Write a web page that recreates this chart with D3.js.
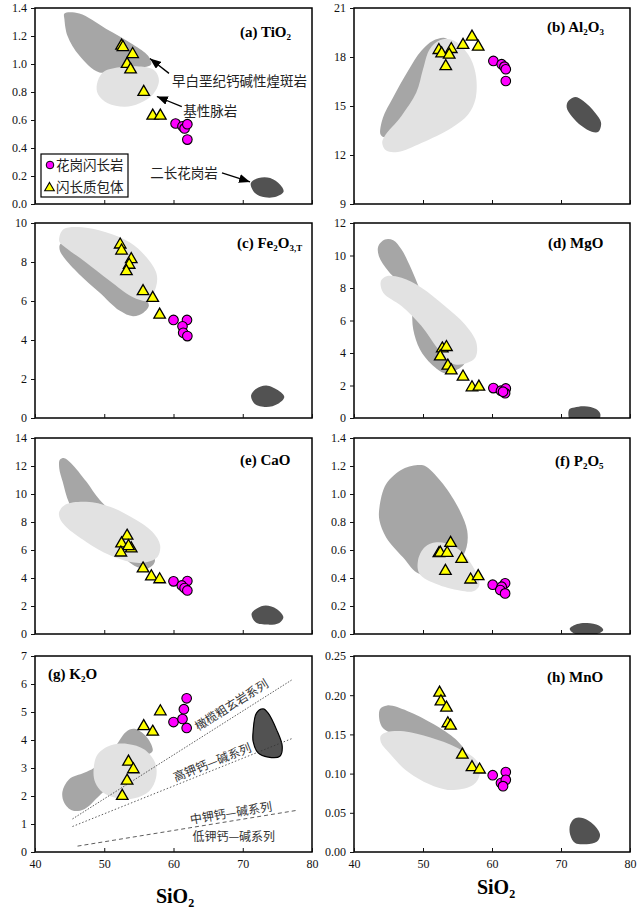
<!DOCTYPE html>
<html>
<head>
<meta charset="utf-8">
<script src="https://cdn.jsdelivr.net/npm/d3@7"></script>
<style>
  body { margin: 0; background: #fff; }
  svg text { font-family: "Liberation Serif", "Times New Roman", serif; }
  svg .cjk { font-family: "Noto Sans CJK SC", sans-serif; }
</style>
</head>
<body>
<div id="chart"></div>
<script>
// x axis is SiO2 (wt%) for every panel
const xTicks = [40, 50, 60, 70, 80]

// (a) TiO2
const tio2Ticks = [0, 0.2, 0.4, 0.6, 0.8, 1.0, 1.2, 1.4]
const tio2Enclave = [[52.5, 1.13], [52.7, 1.12], [54.1, 1.07], [53.3, 1.0], [53.8, 0.96], [55.7, 0.80], [57.0, 0.63], [58.1, 0.63]]
const tio2Granodiorite = [[60.3, 0.575], [61.3, 0.555], [61.6, 0.54], [62.0, 0.57], [62.0, 0.46]]
const tio2Lamprophyre = [[44.25, 1.36], [46.4, 1.36], [50.3, 1.25], [54.15, 1.14], [56.3, 1.06], [56.8, 1.0], [56.1, 0.98], [53.2, 0.98], [49.3, 0.94], [46.4, 1.06], [44.7, 1.2], [44.25, 1.32]]
const tio2Dyke = [[48.94, 0.856], [49.8, 0.94], [52.2, 0.976], [55.6, 0.98], [57.3, 0.952], [57.9, 0.88], [57.05, 0.784], [55.1, 0.72], [52.95, 0.695], [50.5, 0.72], [49.1, 0.784]]
const tio2Granite = [[71.16, 0.149], [72.3, 0.185], [73.96, 0.185], [75.4, 0.137], [75.9, 0.089], [74.9, 0.053], [73.2, 0.048], [71.8, 0.077]]

// (b) Al2O3
const al2o3Ticks = [9, 12, 15, 18, 21]
const al2o3Enclave = [[52.3, 18.42], [52.7, 18.21], [54.1, 18.48], [53.8, 18.13], [53.3, 17.43], [55.8, 18.73], [57.1, 19.24], [58.0, 18.62]]
const al2o3Granodiorite = [[60.2, 17.76], [61.4, 17.56], [61.8, 17.41], [62.0, 17.25], [62.0, 16.53]]
const al2o3Lamprophyre = [[43.85, 13.25], [44.19, 14.28], [45.64, 15.51], [47.82, 17.15], [49.76, 18.38], [51.45, 18.99], [53.15, 19.16], [53.87, 18.89], [52.18, 17.35], [49.76, 15.3], [46.37, 13.66], [44.43, 13.09]]
const al2o3Dyke = [[44.09, 12.74], [44.43, 13.15], [46.85, 14.38], [49.03, 15.82], [50.0, 17.25], [50.97, 18.48], [52.42, 19.03], [54.36, 19.03], [56.54, 18.17], [57.6, 17.04], [57.65, 15.51], [56.54, 14.48], [54.12, 13.66], [49.76, 12.74], [46.37, 12.19], [44.67, 12.27]]
const al2o3Granite = [[71.06, 15.3], [72.03, 15.55], [73.24, 15.3], [74.94, 14.59], [75.81, 13.97], [75.42, 13.42], [74.46, 13.42], [73.0, 13.77], [71.55, 14.38], [70.82, 14.93]]

// (c) Fe2O3T
const fe2o3Ticks = [0, 2, 4, 6, 8, 10]
const fe2o3Enclave = [[52.3, 8.89], [52.5, 8.58], [53.9, 8.14], [53.6, 7.85], [53.2, 7.52], [55.6, 6.5], [57.0, 6.15], [58.0, 5.29]]
const fe2o3Granodiorite = [[60.0, 5.03], [61.95, 5.03], [61.3, 4.7], [61.4, 4.37], [62.0, 4.2]]
const fe2o3Lamprophyre = [[43.66, 8.92], [45.37, 9.1], [49.27, 8.16], [54.15, 7.05], [55.8, 6.19], [56.44, 5.77], [55.61, 5.39], [54.15, 5.22], [52.2, 5.51], [49.27, 6.45], [46.34, 7.39], [44.15, 8.24], [43.56, 8.63]]
const fe2o3Dyke = [[43.51, 9.27], [44.15, 9.69], [46.83, 9.78], [50.24, 9.52], [53.66, 9.01], [56.1, 8.24], [57.56, 7.39], [57.46, 6.71], [56.34, 6.02], [54.15, 6.19], [50.73, 7.05], [47.32, 7.99], [44.39, 8.75], [43.56, 9.01]]
const fe2o3Granite = [[71.2, 1.16], [71.95, 1.5], [73.4, 1.67], [75.1, 1.42], [76.0, 1.08], [75.1, 0.73], [73.4, 0.56], [71.7, 0.73]]

// (d) MgO
const mgoTicks = [0, 2, 4, 6, 8, 10, 12]
const mgoEnclave = [[52.8, 4.27], [53.4, 4.36], [52.5, 3.78], [53.6, 3.21], [54.1, 2.92], [55.8, 2.54], [57.1, 1.88], [58.1, 1.92]]
const mgoGranodiorite = [[60.2, 1.84], [61.3, 1.68], [62.0, 1.82], [61.9, 1.53], [61.6, 1.62]]
const mgoLamprophyre = [[43.52, 10.57], [44.48, 10.98], [45.69, 10.94], [46.89, 10.37], [48.34, 9.14], [49.54, 7.91], [51.23, 6.07], [54.6, 4.23], [56.05, 3.42], [54.6, 2.9], [53.16, 2.76], [51.23, 3.31], [49.54, 4.23], [48.58, 5.46], [48.34, 6.69], [47.61, 7.81], [44.96, 9.04], [43.61, 9.96]]
const mgoDyke = [[43.9, 8.43], [44.72, 8.73], [46.89, 8.63], [49.78, 8.02], [53.16, 6.89], [56.05, 5.77], [57.73, 4.64], [57.59, 3.72], [55.8, 3.31], [54.12, 3.37], [52.19, 4.23], [49.78, 5.66], [46.89, 6.89], [44.24, 7.71]]
const mgoGranite = [[71.23, 0.55], [71.95, 0.65], [73.4, 0.72], [75.08, 0.55], [75.7, 0.25], [75.3, -0.27], [73.4, -0.37], [71.47, -0.27], [71.08, 0.14]]

// (e) CaO
const caoTicks = [0, 2, 4, 6, 8, 10, 12, 14]
const caoEnclave = [[53.3, 7.01], [52.5, 6.46], [53.9, 6.1], [53.5, 6.27], [52.4, 5.81], [55.6, 4.67], [56.8, 4.11], [58.0, 3.9]]
const caoGranodiorite = [[60.0, 3.76], [62.0, 3.78], [61.2, 3.47], [61.6, 3.28], [62.0, 3.11]]
const caoLamprophyre = [[43.59, 12.44], [44.23, 12.56], [45.21, 12.2], [47.41, 10.89], [49.36, 9.57], [53.28, 7.78], [56.7, 6.1], [57.29, 5.14], [56.21, 4.67], [54.74, 4.78], [51.81, 5.86], [47.41, 7.54], [44.96, 9.33], [43.99, 10.89], [43.5, 11.84]]
const caoDyke = [[43.5, 8.73], [44.47, 9.26], [47.41, 9.45], [50.83, 9.09], [54.25, 8.25], [56.94, 7.3], [58.07, 6.34], [57.68, 5.5], [56.21, 5.14], [54.25, 5.1], [50.83, 5.62], [47.41, 6.58], [44.47, 7.66], [43.59, 8.25]]
const caoGranite = [[71.27, 1.44], [72.1, 1.84], [73.32, 2.03], [74.89, 1.79], [75.87, 1.2], [75.28, 0.79], [73.57, 0.67], [71.86, 0.84]]

// (f) P2O5
const p2o5Ticks = [0, 0.2, 0.4, 0.6, 0.8, 1.0, 1.2, 1.4]
const p2o5Enclave = [[54.0, 0.65], [52.3, 0.576], [52.5, 0.58], [53.5, 0.579], [55.6, 0.536], [53.25, 0.45], [56.9, 0.388], [58.0, 0.412]]
const p2o5Granodiorite = [[60.1, 0.352], [61.9, 0.362], [61.4, 0.338], [61.2, 0.314], [61.9, 0.29]]
const p2o5Lamprophyre = [[43.69, 0.905], [44.66, 1.071], [47.09, 1.179], [49.51, 1.207], [50.49, 1.195], [52.91, 1.071], [55.34, 0.881], [56.41, 0.738], [56.31, 0.619], [55.34, 0.524], [53.4, 0.452], [49.51, 0.429], [47.09, 0.548], [44.66, 0.69], [43.69, 0.81]]
const p2o5Dyke = [[49.27, 0.524], [50.24, 0.619], [51.94, 0.655], [54.37, 0.631], [56.31, 0.548], [57.77, 0.429], [58.16, 0.345], [57.28, 0.305], [55.34, 0.31], [51.94, 0.357], [49.51, 0.429]]
const p2o5Granite = [[71.26, 0.036], [72.33, 0.071], [73.79, 0.079], [75.49, 0.06], [76.12, 0.029], [75.49, 0.005], [73.79, -0.005], [71.84, 0.005]]

// (g) K2O
const k2oTicks = [0, 1, 2, 3, 4, 5, 6, 7]
const k2oEnclave = [[58.1, 5.02], [55.7, 4.49], [57.0, 4.29], [53.5, 3.22], [54.2, 2.95], [53.3, 2.54], [52.6, 2.0]]
const k2oGranodiorite = [[61.9, 5.49], [61.5, 5.1], [60.0, 4.64], [61.3, 4.75], [61.9, 4.43]]
const k2oLamprophyre = [[43.96, 2.15], [44.93, 2.6], [47.1, 2.83], [48.55, 3.01], [51.45, 3.72], [53.14, 4.29], [54.35, 4.4], [56.04, 4.13], [57.0, 3.62], [56.28, 3.48], [54.35, 3.31], [50.97, 2.42], [49.03, 1.95], [47.1, 1.53], [45.41, 1.48], [44.2, 1.77]]
const k2oDyke = [[48.45, 2.89], [49.03, 3.48], [50.97, 3.81], [53.38, 3.86], [55.8, 3.66], [57.34, 3.19], [57.49, 2.66], [56.52, 2.18], [54.35, 1.92], [51.93, 1.92], [49.76, 2.13], [48.7, 2.48]]
const k2oGranite = [[71.5, 4.31], [71.98, 4.96], [72.95, 5.11], [73.67, 4.96], [74.88, 4.37], [75.7, 3.78], [75.36, 3.42], [73.67, 3.39], [72.22, 3.54], [71.5, 3.95]]
// series boundaries in the K2O-SiO2 plot
const seriesLines = [
  { pts: [[45.41, 1.18], [77.05, 6.14]], dash: '1.5,1.5' },
  { pts: [[45.41, 0.91], [77.29, 4.07]], dash: '1.5,2' },
  { pts: [[46.14, 0.21], [77.63, 1.48]], dash: '4,3' }
]
const seriesLabels = [
  { text: '橄榄粗玄岩系列', at: [68.4, 5.25], line: 0 },
  { text: '高钾钙—碱系列', at: [65.6, 3.2], line: 1 },
  { text: '中钾钙—碱系列', at: [68.3, 1.39], line: 2 },
  { text: '低钾钙—碱系列', at: [68.7, 0.53], line: null }
]

// (h) MnO
const mnoTicks = [0, 0.05, 0.10, 0.15, 0.20, 0.25]
const mnoEnclave = [[52.4, 0.203], [52.6, 0.192], [53.4, 0.184], [53.6, 0.164], [54.0, 0.161], [55.7, 0.124], [57.1, 0.108], [58.2, 0.105]]
const mnoGranodiorite = [[60.1, 0.098], [62.0, 0.102], [61.3, 0.088], [62.0, 0.092], [61.6, 0.084]]
const mnoLamprophyre = [[43.76, 0.182], [44.82, 0.187], [47.71, 0.18], [51.57, 0.163], [54.7, 0.144], [56.0, 0.129], [54.46, 0.129], [49.64, 0.146], [44.82, 0.154], [43.86, 0.163]]
const mnoDyke = [[43.86, 0.148], [44.82, 0.153], [47.23, 0.154], [51.08, 0.146], [54.94, 0.133], [57.83, 0.116], [58.22, 0.099], [57.35, 0.086], [54.46, 0.079], [51.57, 0.084], [47.71, 0.103], [44.82, 0.129], [43.95, 0.139]]
const mnoGranite = [[71.33, 0.035], [72.05, 0.043], [73.25, 0.043], [74.7, 0.035], [75.66, 0.022], [75.18, 0.013], [73.73, 0.010], [72.05, 0.0115], [71.33, 0.022]]

// panel (a) annotations: [arrow tail, arrow tip, text anchor]
const annotations = [
  { text: '早白垩纪钙碱性煌斑岩', tail: [59.35, 0.933], tip: [56.6, 1.04], at: [59.8, 0.876], anchor: 'start' },
  { text: '基性脉岩', tail: [61.2, 0.696], tip: [57.6, 0.768], at: [61.4, 0.66], anchor: 'start' },
  { text: '二长花岗岩', tail: [67.0, 0.222], tip: [71.05, 0.158], at: [66.4, 0.222], anchor: 'end' }
]
const legendLabels = ['花岗闪长岩', '闪长质包体']

const colX = [[35, 312], [354, 630]]
const rowY = [[8, 204], [223, 418], [438, 634], [656, 852]]

const panels = [
  { id: 'a', col: 0, row: 0, title: [['(a) TiO'], ['2', 1]], tdx: 205, tdy: 29, domain: [0, 1.4], ticks: tio2Ticks, fmt: '.1f', enclave: tio2Enclave, gd: tio2Granodiorite, fields: [tio2Lamprophyre, tio2Dyke, tio2Granite] },
  { id: 'b', col: 1, row: 0, title: [['(b) Al'], ['2', 1], ['O'], ['3', 1]], tdx: 193, tdy: 24, domain: [9, 21], ticks: al2o3Ticks, fmt: 'd', enclave: al2o3Enclave, gd: al2o3Granodiorite, fields: [al2o3Lamprophyre, al2o3Dyke, al2o3Granite] },
  { id: 'c', col: 0, row: 1, title: [['(c) Fe'], ['2', 1], ['O'], ['3,T', 1]], tdx: 202, tdy: 25, domain: [0, 10], ticks: fe2o3Ticks, fmt: 'd', enclave: fe2o3Enclave, gd: fe2o3Granodiorite, fields: [fe2o3Lamprophyre, fe2o3Dyke, fe2o3Granite] },
  { id: 'd', col: 1, row: 1, title: [['(d) MgO']], tdx: 194, tdy: 25, domain: [0, 12], ticks: mgoTicks, fmt: 'd', enclave: mgoEnclave, gd: mgoGranodiorite, fields: [mgoLamprophyre, mgoDyke, mgoGranite] },
  { id: 'e', col: 0, row: 2, title: [['(e) CaO']], tdx: 205, tdy: 27, domain: [0, 14], ticks: caoTicks, fmt: 'd', enclave: caoEnclave, gd: caoGranodiorite, fields: [caoLamprophyre, caoDyke, caoGranite] },
  { id: 'f', col: 1, row: 2, title: [['(f) P'], ['2', 1], ['O'], ['5', 1]], tdx: 201, tdy: 28, domain: [0, 1.4], ticks: p2o5Ticks, fmt: '.1f', enclave: p2o5Enclave, gd: p2o5Granodiorite, fields: [p2o5Lamprophyre, p2o5Dyke, p2o5Granite] },
  { id: 'g', col: 0, row: 3, title: [['(g) K'], ['2', 1], ['O']], tdx: 13, tdy: 23, domain: [0, 7], ticks: k2oTicks, fmt: 'd', enclave: k2oEnclave, gd: k2oGranodiorite, fields: [k2oLamprophyre, k2oDyke, k2oGranite] },
  { id: 'h', col: 1, row: 3, title: [['(h) MnO']], tdx: 193, tdy: 26, domain: [0, 0.25], ticks: mnoTicks, fmt: '.2f', enclave: mnoEnclave, gd: mnoGranodiorite, fields: [mnoLamprophyre, mnoDyke, mnoGranite] }
]

const fieldColors = ['#a6a6a6', '#e2e2e2', '#525252']

const svg = d3.select('#chart')
  .append('svg')
  .attr('width', 641)
  .attr('height', 913)

const defs = svg.append('defs')
defs.append('marker')
  .attr('id', 'arrow')
  .attr('viewBox', '0 0 10 8')
  .attr('refX', 10)
  .attr('refY', 4)
  .attr('markerUnits', 'userSpaceOnUse')
  .attr('markerWidth', 11)
  .attr('markerHeight', 9)
  .attr('orient', 'auto')
  .append('path')
  .attr('d', 'M0,0 L10,4 L0,8 Z')
  .attr('fill', '#000')

// text with subscripts: parts = [[text, isSub]]
function richText(sel, parts, size) {
  let shifted = false
  parts.forEach(([t, sub]) => {
    const ts = sel.append('tspan').text(t)
    if (sub) {
      ts.attr('font-size', size * 0.6).attr('dy', shifted ? 0 : size * 0.22)
      shifted = true
    } else {
      ts.attr('font-size', size).attr('dy', shifted ? -size * 0.22 : 0)
      shifted = false
    }
  })
}

const triangle = d3.symbol(d3.symbolTriangle, 58)

panels.forEach(p => {
  const [x0, x1] = colX[p.col], [y0, y1] = rowY[p.row]
  const x = d3.scaleLinear().domain([40, 80]).range([x0, x1])
  const y = d3.scaleLinear().domain(p.domain).range([y1, y0])

  const g = svg.append('g').attr('class', 'panel-' + p.id)

  defs.append('clipPath').attr('id', 'clip-' + p.id)
    .append('rect')
    .attr('x', x0).attr('y', y0)
    .attr('width', x1 - x0).attr('height', y1 - y0)

  const plot = g.append('g').attr('clip-path', `url(#clip-${p.id})`)

  const area = d3.line()
    .x(d => x(d[0]))
    .y(d => y(d[1]))
    .curve(d3.curveCatmullRomClosed.alpha(0.5))

  p.fields.forEach((f, i) => {
    plot.append('path')
      .datum(f)
      .attr('d', area)
      .attr('fill', fieldColors[i])
      .attr('stroke', p.id === 'g' && i === 2 ? '#000' : 'none')
      .attr('stroke-width', 1.2)
  })

  if (p.id === 'g') {
    const line = d3.line().x(d => x(d[0])).y(d => y(d[1]))
    seriesLines.forEach(s => {
      plot.append('path')
        .datum(s.pts)
        .attr('d', line)
        .attr('fill', 'none')
        .attr('stroke', '#333')
        .attr('stroke-width', 0.8)
        .attr('stroke-dasharray', s.dash)
    })
    seriesLabels.forEach(l => {
      let angle = 0
      if (l.line !== null) {
        const [a, b] = seriesLines[l.line].pts
        angle = Math.atan2(y(b[1]) - y(a[1]), x(b[0]) - x(a[0])) * 180 / Math.PI
      }
      g.append('text')
        .attr('class', 'cjk')
        .attr('transform', `translate(${x(l.at[0])},${y(l.at[1])}) rotate(${angle})`)
        .attr('text-anchor', 'middle')
        .attr('dy', '0.35em')
        .attr('font-size', 12)
        .attr('fill', '#333')
        .text(l.text)
    })
  }

  // frame
  g.append('rect')
    .attr('x', x0).attr('y', y0)
    .attr('width', x1 - x0).attr('height', y1 - y0)
    .attr('fill', 'none')
    .attr('stroke', '#000')
    .attr('stroke-width', 1.5)

  const yAxis = d3.axisLeft(y)
    .tickValues(p.ticks)
    .tickFormat(d3.format(p.fmt))
    .tickSize(4)
    .tickPadding(4)
  g.append('g')
    .attr('transform', `translate(${x0},0)`)
    .call(yAxis)
    .call(a => a.select('.domain').remove())
    .attr('font-family', '"Liberation Serif", serif')
    .attr('font-size', 12)
    .attr('color', '#111')

  const xAxis = d3.axisBottom(x)
    .tickValues(xTicks)
    .tickSize(-4)
    .tickPadding(7)
  if (p.row < 3) xAxis.tickFormat('')
  g.append('g')
    .attr('transform', `translate(0,${y1})`)
    .call(xAxis)
    .call(a => a.select('.domain').remove())
    .attr('font-family', '"Liberation Serif", serif')
    .attr('font-size', 12)
    .attr('color', '#111')

  // samples
  g.selectAll('.enclave')
    .data(p.enclave)
    .join('path')
    .attr('class', 'enclave')
    .attr('d', triangle)
    .attr('transform', d => `translate(${x(d[0])},${y(d[1])})`)
    .attr('fill', '#ffff00')
    .attr('stroke', '#000')
    .attr('stroke-width', 1.3)

  g.selectAll('.gd')
    .data(p.gd)
    .join('circle')
    .attr('class', 'gd')
    .attr('cx', d => x(d[0]))
    .attr('cy', d => y(d[1]))
    .attr('r', 4.8)
    .attr('fill', '#ff00ff')
    .attr('stroke', '#000')
    .attr('stroke-width', 1.1)

  const title = g.append('text')
    .attr('x', x0 + p.tdx)
    .attr('y', y0 + p.tdy)
    .attr('font-weight', 'bold')
  richText(title, p.title, 15)

  if (p.id === 'a') {
    annotations.forEach(a => {
      g.append('line')
        .attr('x1', x(a.tail[0])).attr('y1', y(a.tail[1]))
        .attr('x2', x(a.tip[0])).attr('y2', y(a.tip[1]))
        .attr('stroke', '#000')
        .attr('stroke-width', 1.3)
        .attr('marker-end', 'url(#arrow)')
      g.append('text')
        .attr('class', 'cjk')
        .attr('x', x(a.at[0]))
        .attr('y', y(a.at[1]))
        .attr('dy', '0.35em')
        .attr('text-anchor', a.anchor)
        .attr('font-size', 13.5)
        .attr('fill', '#222')
        .text(a.text)
    })

    // legend
    const lg = g.append('g').attr('transform', `translate(${x0 + 6},${y1 - 50})`)
    lg.append('rect')
      .attr('width', 87).attr('height', 43)
      .attr('fill', '#fff')
      .attr('stroke', '#000')
      .attr('stroke-width', 1.2)
    lg.append('circle')
      .attr('cx', 9).attr('cy', 11).attr('r', 3.8)
      .attr('fill', '#ff00ff').attr('stroke', '#000')
    lg.append('path')
      .attr('d', d3.symbol(d3.symbolTriangle, 40)())
      .attr('transform', 'translate(8.5,34)')
      .attr('fill', '#ffff00').attr('stroke', '#000').attr('stroke-width', 1.1)
    legendLabels.forEach((t, i) => {
      lg.append('text')
        .attr('class', 'cjk')
        .attr('x', 15)
        .attr('y', 11 + i * 22)
        .attr('dy', '0.35em')
        .attr('font-size', 13.5)
        .attr('fill', '#222')
        .text(t)
    })
  }
})

// shared x titles
const xTitles = [[175, 903], [496, 894]]
xTitles.forEach(([tx, ty]) => {
  const t = svg.append('text')
    .attr('x', tx).attr('y', ty)
    .attr('text-anchor', 'middle')
    .attr('font-weight', 'bold')
  richText(t, [['SiO'], ['2', 1]], 20)
})
</script>
</body>
</html>
